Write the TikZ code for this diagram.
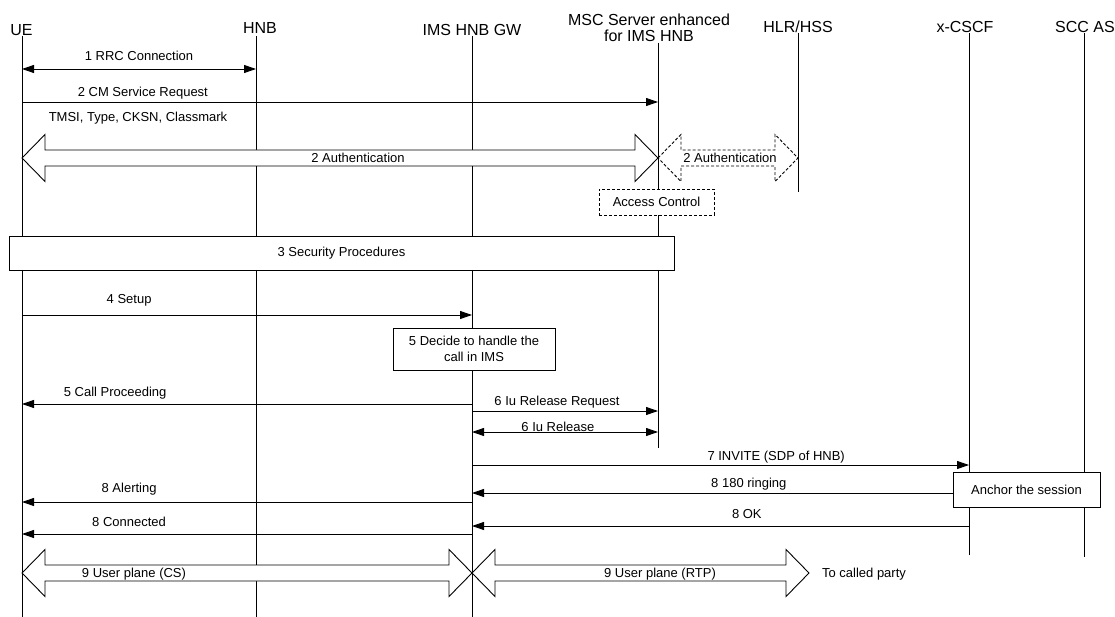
\documentclass[tikz,border=0pt]{standalone}
\usepackage{fontspec}
\setmainfont{Liberation Sans}
\usetikzlibrary{calc, arrows.meta}

% 空心双向箭头：左端 #2，右端 #3
\newcommand{\hollowpair}[3][]{%
  \draw[#1] let \p1=(#2), \p2=(#3) in
    (\p1) -- (\x1+23pt,\y1+23.5pt) -- (\x1+23pt,\y1+8pt)
    -- (\x2-23pt,\y2+8pt) -- (\x2-23pt,\y2+23.5pt) -- (\p2)
    -- (\x2-23pt,\y2-23.5pt) -- (\x2-23pt,\y2-8pt)
    -- (\x1+23pt,\y1-8pt) -- (\x1+23pt,\y1-23.5pt) -- cycle;}

\begin{document}
\begin{tikzpicture}[x=1pt, y=-1pt, line width=0.9pt,
  font=\fontsize{13}{15}\selectfont,
  >={Triangle[length=12pt, width=8pt]},
  actor/.style={font=\fontsize{16}{15.5}\selectfont, anchor=base, inner sep=0pt},
  lbl/.style={inner sep=1pt, text height=9.4pt, text depth=2.8pt},
  note/.style={anchor=base, inner sep=0pt},
  stepbox/.style={draw, fill=white, align=center, inner sep=2pt},
  dashbox/.style={stepbox, dash pattern=on 3pt off 2pt}]
  \useasboundingbox (0,0) rectangle (1115,617);
  % 参与者
  \node[actor] (ueT) at (21.5,36) {UE};
  \node[actor] (hnbT) at (260,34) {HNB};
  \node[actor] (gwT) at (472,36) {IMS HNB GW};
  \node[actor, anchor=center, align=center] (mscT) at (649,28) {MSC Server enhanced\\for IMS HNB};
  \node[actor] (hlrT) at (798,33) {HLR/HSS};
  \node[actor] (cscfT) at (965,33) {x-CSCF};
  \node[actor] (sccT) at (1085,33) {SCC AS};
  % 生命线
  \foreach \n/\x/\ya/\yb in {ue/22/36/617, hnb/256/36/617, gw/472/36/617,
      msc/658/43/448, hlr/798/33/192, cscf/969/33/555, scc/1084/33/557}
    \draw (\x,\ya) coordinate (\n) -- (\x,\yb) coordinate (\n-end);
  % 1-2
  \draw[<->] (ue |- 0,69) -- node[lbl, above=4.5pt] (m1) {1 RRC Connection} (hnb |- 0,69);
  \draw[->] (ue |- 0,102) -- node[lbl, above=1.5pt, pos=.19] (m2) {2 CM Service Request} (msc |- 0,102);
  \node[note] (tmsi) at (138,121.7) {TMSI, Type, CKSN, Classmark};
  % 2 鉴权
  \hollowpair[fill=white]{ue |- 0,158}{msc |- 0,158}
  \node[note] (auth) at (358,162.7) {2 Authentication};
  \hollowpair[fill=white, dash pattern=on 3pt off 2pt]{msc |- 0,158}{hlr |- 0,158}
  \node[note] (authb) at (730,162.7) {2 Authentication};
  \node[dashbox, minimum width=115, minimum height=26] (acc) at (656.5,202) {Access Control};
  % 3
  \node[stepbox, minimum width=665, minimum height=34] (sec) at (341.5,253) {3 Security Procedures};
  % 4-5
  \draw[->] (ue |- 0,315) -- node[lbl, above=7.5pt, pos=.238] (m4) {4 Setup} (gw |- 0,315);
  \node[stepbox, minimum width=162, minimum height=42, font=\fontsize{13}{16}\selectfont]
    (decide) at (474,349) {5 Decide to handle the\\call in IMS};
  \draw[->] (gw |- 0,404) -- node[lbl, above=3.5pt, pos=.793] (m5) {5 Call Proceeding} (ue |- 0,404);
  % 6
  \draw[->] (gw |- 0,411) -- node[lbl, above=1.5pt, pos=.457] (m6) {6 Iu Release Request} (msc |- 0,411);
  \draw[<->] (gw |- 0,432) -- node[lbl, above=-3.5pt, pos=.462] (m6b) {6 Iu Release} (msc |- 0,432);
  % 7-8
  \node[stepbox, minimum width=147, minimum height=35] (anch) at (1026.5,489.5) {Anchor the session};
  \draw[->] (gw |- 0,465) -- node[lbl, above=0.5pt, pos=.612] (m7) {7 INVITE (SDP of HNB)} (cscf |- 0,465);
  \draw[->] (anch.west |- 0,493) -- node[lbl, above=1.5pt, pos=.424] (m8) {8 180 ringing} (gw |- 0,493);
  \draw[->] (gw |- 0,502) -- node[lbl, above=5.5pt, pos=.762] (m8b) {8 Alerting} (ue |- 0,502);
  \draw[->] (cscf |- 0,526) -- node[lbl, above=3.5pt, pos=.447] (m8c) {8 OK} (gw |- 0,526);
  \draw[->] (gw |- 0,534) -- node[lbl, above=3.5pt, pos=.762] (m8d) {8 Connected} (ue |- 0,534);
  % 9 用户面
  \coordinate (far) at (809,573);
  \hollowpair[fill=white]{ue |- far}{gw |- far}
  \node[note] (cs) at (134,577.2) {9 User plane (CS)};
  \hollowpair[fill=white]{gw |- far}{far}
  \node[note] (rtp) at (660,577.7) {9 User plane (RTP)};
  \node[note] (called) at (864,577.7) {To called party};
\end{tikzpicture}
\end{document}
